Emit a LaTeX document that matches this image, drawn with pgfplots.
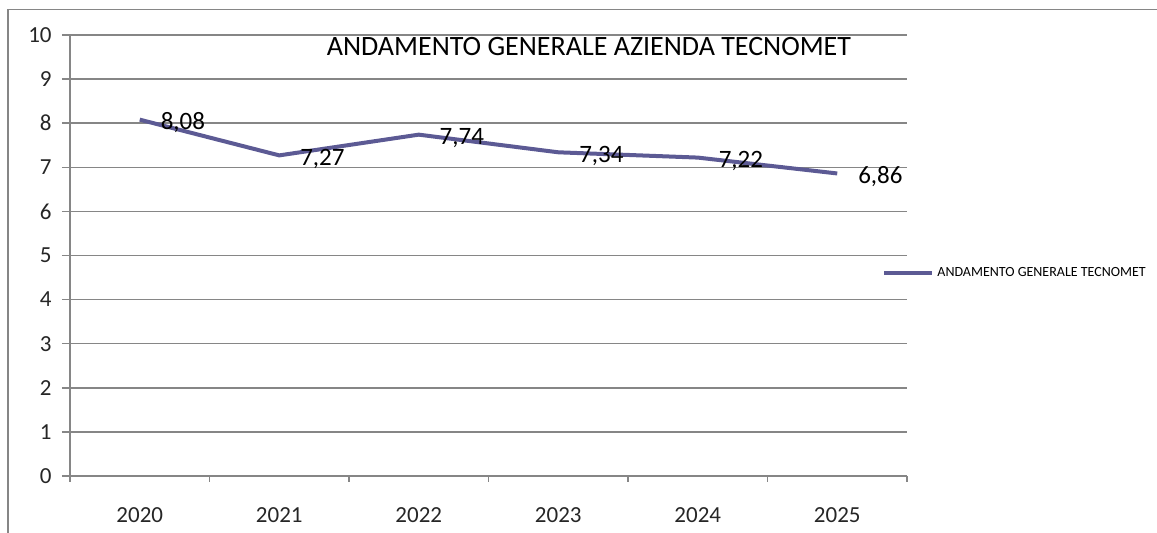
\documentclass[border=0pt]{standalone}
\usepackage{pgfplots}
\pgfplotsset{compat=1.18}
\usepackage{fontspec}
\setmainfont{Carlito}
\definecolor{serie}{RGB}{92,90,148}
\definecolor{gridc}{RGB}{134,134,134}
\begin{document}
\begin{tikzpicture}
\useasboundingbox (-35pt,-28.5pt) rectangle (543.5pt,238pt);
\draw[gridc, line width=0.75pt] (-31pt,-28.5pt) -- (-31pt,233.25pt) -- (543.5pt,233.25pt);
\begin{axis}[
  scale only axis,
  width=418.5pt, height=220.5pt,
  xmin=-0.5, xmax=5.5,
  ymin=0, ymax=10,
  xtick={0,1,2,3,4,5},
  xticklabels={2020,2021,2022,2023,2024,2025},
  minor xtick={-0.5,0.5,1.5,2.5,3.5,4.5,5.5},
  ytick={0,1,...,10},
  axis lines=left,
  axis line style={-, gridc, line width=0.75pt},
  tick align=outside,
  major x tick style={draw=none},
  minor x tick style={gridc, line width=0.75pt},
  minor tick length=3pt,
  major y tick style={gridc, line width=0.75pt},
  major tick length=4pt,
  ymajorgrids,
  major grid style={gridc, line width=0.75pt},
  tick label style={font=\fontsize{11.5}{13}\selectfont, text=black!85},
  /pgf/number format/assume math mode=true,
  xticklabel style={inner sep=0pt, anchor=base, yshift=-19.5pt},
  yticklabel style={inner sep=0pt, anchor=east, xshift=-5pt},
  clip=false,
  nodes near coords,
  point meta=explicit symbolic,
  nodes near coords style={anchor=base west, inner sep=0pt, xshift=9.5pt, yshift=-5pt,
     font=\fontsize{12.5}{14}\selectfont, text=black},
  legend style={draw=none, fill=none, at={(406pt,101.5pt)}, anchor=west, inner sep=0pt,
     font=\fontsize{7}{8}\selectfont, nodes={inner sep=1.5pt}},
  legend image code/.code={\draw[#1, line width=2pt] (0pt,0pt) -- (24pt,0pt);},
]
\addplot[serie, line width=2pt, mark=none] table[meta=lab] {
x y lab
0 8.08 8,08
1 7.27 7,27
2 7.74 7,74
3 7.34 7,34
4 7.22 7,22
5 6.86 6,86
};
\addlegendentry{ANDAMENTO GENERALE TECNOMET}
\node[font=\fontsize{14}{16}\selectfont, text=black] at (rel axis cs:0.62,0.9728) {ANDAMENTO GENERALE AZIENDA TECNOMET};
\end{axis}
\end{tikzpicture}
\end{document}
